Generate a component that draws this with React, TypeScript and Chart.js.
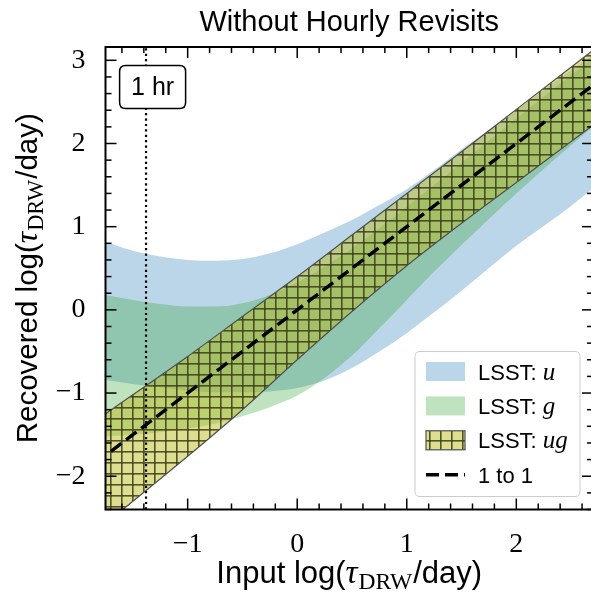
import React, { useEffect, useRef } from "react";
import { Chart, registerables } from "chart.js";

Chart.register(...registerables);

// ---------- text ----------
const TITLE = "Without Hourly Revisits";
const X_LABEL = ["Input log(", "τ", "DRW", "/day)"];
const Y_LABEL = ["Recovered log(", "τ", "DRW", "/day)"];
const LEGEND_PREFIX = "LSST:";
const SERIES_NAMES = ["u", "g", "ug"];
const ONE_TO_ONE_LABEL = "1 to 1";
const HOUR_LABEL = "1 hr";

// ---------- axes ----------
const X_RANGE = [-1.75, 2.7];
const Y_RANGE = [-2.4, 3.16];
const X_TICKS = [-1, 0, 1, 2];
const Y_TICKS = [-2, -1, 0, 1, 2, 3];
const MINOR_STEP = 0.2;

// ---------- data ----------
const U_X = [-1.75, -1.5, -1.25, -1.0, -0.75, -0.5, -0.25, 0, 0.25, 0.5, 0.75, 1.0, 1.25, 1.5, 2.0, 2.5, 2.7];
const U_UPPER = [0.82, 0.71, 0.64, 0.6, 0.59, 0.61, 0.68, 0.79, 0.93, 1.08, 1.26, 1.45, 1.68, 1.93, 2.4, 2.88, 3.06];
const U_LOWER = [-0.84, -0.89, -0.93, -0.97, -0.99, -0.99, -0.98, -0.94, -0.85, -0.7, -0.5, -0.28, -0.03, 0.23, 0.77, 1.25, 1.46];

const G_X = [-1.75, -1.5, -1.25, -1.0, -0.75, -0.5, -0.25, 0, 0.25, 0.5, 0.75, 1.0, 1.25, 1.5, 2.0, 2.5, 2.7];
const G_UPPER = [0.18, 0.12, 0.07, 0.04, 0.04, 0.08, 0.18, 0.33, 0.52, 0.74, 0.98, 1.24, 1.5, 1.77, 2.3, 2.82, 3.02];
const G_LOWER = [-1.52, -1.5, -1.47, -1.43, -1.37, -1.28, -1.17, -1.03, -0.82, -0.55, -0.22, 0.12, 0.46, 0.78, 1.4, 1.98, 2.2];

const UG_X = [-1.75, -1.0, -0.5, 0, 0.5, 1.0, 1.5, 2.0, 2.7];
const UG_UPPER = [-1.25, -0.56, -0.08, 0.4, 0.9, 1.4, 1.9, 2.41, 3.12];
const UG_LOWER = [-2.57, -1.76, -1.2, -0.6, -0.02, 0.53, 1.04, 1.53, 2.22];

const ONE_X = [-1.7, 2.7];
const ONE_Y = [-1.7, 2.7];

const HOUR_X = -1.38; // log10(1/24)
const HOUR_LABEL_POS = [-1.32, 2.68];

// ---------- styles ----------
const SANS = "'Liberation Sans', Arial, sans-serif";
const SERIF = "'Liberation Serif', 'Times New Roman', serif";
const U_COLOR = "rgba(31,119,180,0.3)";
const G_COLOR = "rgba(44,160,44,0.3)";
const EDGE = "#505050";

function pts(xs: number[], ys: number[]) {
  return xs.map((x, i) => ({ x, y: ys[i] }));
}

function makeHatch(ctx: CanvasRenderingContext2D) {
  const c = document.createElement("canvas");
  c.width = 11;
  c.height = 11;
  const g = c.getContext("2d")!;
  g.fillStyle = "rgba(188,189,34,0.5)";
  g.fillRect(0, 0, 11, 11);
  g.fillStyle = "rgba(60,60,25,0.85)";
  g.fillRect(0, 0, 11, 1.6);
  g.fillRect(0, 0, 1.6, 11);
  return ctx.createPattern(c, "repeat")!;
}

function drawParts(ctx: CanvasRenderingContext2D, parts: string[], size: number) {
  const fonts = [
    `${size}px ${SANS}`,
    `italic ${size * 1.08}px ${SERIF}`,
    `${size * 0.76}px ${SERIF}`,
    `${size}px ${SANS}`,
  ];
  const dys = [0, 0, size * 0.2, 0];
  const gaps = [0, 1, 1, 0];
  const widths = parts.map((p, i) => {
    ctx.font = fonts[i];
    return ctx.measureText(p).width + gaps[i];
  });
  const total = widths.reduce((a, b) => a + b, 0);
  let x = -total / 2;
  parts.forEach((p, i) => {
    ctx.font = fonts[i];
    ctx.fillText(p, x, dys[i]);
    x += widths[i];
  });
}

function roundRect(ctx: CanvasRenderingContext2D, x: number, y: number, w: number, h: number, r: number) {
  ctx.beginPath();
  ctx.moveTo(x + r, y);
  ctx.lineTo(x + w - r, y);
  ctx.quadraticCurveTo(x + w, y, x + w, y + r);
  ctx.lineTo(x + w, y + h - r);
  ctx.quadraticCurveTo(x + w, y + h, x + w - r, y + h);
  ctx.lineTo(x + r, y + h);
  ctx.quadraticCurveTo(x, y + h, x, y + h - r);
  ctx.lineTo(x, y + r);
  ctx.quadraticCurveTo(x, y, x + r, y);
  ctx.closePath();
}

export default function App() {
  const ref = useRef<HTMLCanvasElement>(null);

  useEffect(() => {
    const canvas = ref.current!;
    const ctx0 = canvas.getContext("2d")!;
    const hatch = makeHatch(ctx0);

    const decor = {
      id: "decor",
      afterDatasetsDraw(chart: any) {
        const { ctx, chartArea: a, scales } = chart;
        const xs = scales.x;
        const ys = scales.y;
        ctx.save();

        // 1 hr box
        const bx = xs.getPixelForValue(HOUR_LABEL_POS[0]);
        const by = ys.getPixelForValue(HOUR_LABEL_POS[1]);
        const bw = 66;
        const bh = 43;
        roundRect(ctx, bx - bw / 2, by - bh / 2, bw, bh, 6);
        ctx.fillStyle = "#fff";
        ctx.fill();
        ctx.strokeStyle = "#000";
        ctx.lineWidth = 1.5;
        ctx.stroke();
        ctx.fillStyle = "#000";
        ctx.font = `25px ${SANS}`;
        ctx.textAlign = "center";
        ctx.textBaseline = "middle";
        ctx.fillText(HOUR_LABEL, bx, by + 1);

        // ticks
        ctx.strokeStyle = "#000";
        ctx.lineWidth = 1.5;
        const seg = (x1: number, y1: number, x2: number, y2: number) => {
          ctx.beginPath();
          ctx.moveTo(x1, y1);
          ctx.lineTo(x2, y2);
          ctx.stroke();
        };
        const xTick = (v: number, len: number) => {
          const p = xs.getPixelForValue(v);
          seg(p, a.bottom, p, a.bottom - len);
          seg(p, a.top, p, a.top + len);
        };
        const yTick = (v: number, len: number) => {
          const p = ys.getPixelForValue(v);
          seg(a.left, p, a.left + len, p);
          seg(a.right, p, a.right - len, p);
        };
        const minors = (min: number, max: number, f: (v: number) => void) => {
          for (let k = Math.ceil(min / MINOR_STEP - 1e-9); k * MINOR_STEP <= max + 1e-9; k++) {
            const v = k * MINOR_STEP;
            if (Math.abs(v - Math.round(v)) < 1e-6) continue;
            f(v);
          }
        };
        xs.ticks.forEach((t: any) => xTick(t.value, 11));
        ys.ticks.forEach((t: any) => yTick(t.value, 11));
        minors(xs.min, xs.max, (v) => xTick(v, 6));
        minors(ys.min, ys.max, (v) => yTick(v, 6));

        // frame
        ctx.lineWidth = 2;
        ctx.strokeRect(a.left, a.top, a.right - a.left, a.bottom - a.top);

        // legend
        const lw = 165;
        const lh = 145;
        const lx = a.right - 13 - lw;
        const ly = a.bottom - 13 - lh;
        roundRect(ctx, lx, ly, lw, lh, 5);
        ctx.fillStyle = "rgba(255,255,255,0.85)";
        ctx.fill();
        ctx.strokeStyle = "#cccccc";
        ctx.lineWidth = 1;
        ctx.stroke();

        const rowY = (i: number) => ly + 20 + i * 34.4;
        const px = lx + 11;
        const pw = 39;
        const ph = 19;
        const fills = [U_COLOR, G_COLOR];
        for (let i = 0; i < 3; i++) {
          const cy = rowY(i);
          if (i < 2) {
            ctx.fillStyle = fills[i];
            ctx.fillRect(px, cy - ph / 2, pw, ph);
          } else {
            ctx.fillStyle = hatch;
            ctx.fillRect(px, cy - ph / 2, pw, ph);
            ctx.strokeStyle = EDGE;
            ctx.lineWidth = 1.2;
            ctx.strokeRect(px, cy - ph / 2, pw, ph);
          }
          ctx.fillStyle = "#000";
          ctx.textAlign = "left";
          ctx.textBaseline = "alphabetic";
          ctx.font = `22px ${SANS}`;
          const tx = lx + 63;
          ctx.fillText(LEGEND_PREFIX, tx, cy + 8);
          const w = ctx.measureText(LEGEND_PREFIX).width;
          ctx.font = `italic 25px ${SERIF}`;
          ctx.fillText(SERIES_NAMES[i], tx + w + 6, cy + 8);
        }
        const dy = rowY(3);
        ctx.strokeStyle = "#000";
        ctx.lineWidth = 3.5;
        ctx.setLineDash([13, 6]);
        seg(px, dy, px + pw, dy);
        ctx.setLineDash([]);
        ctx.fillStyle = "#000";
        ctx.font = `22px ${SANS}`;
        ctx.fillText(ONE_TO_ONE_LABEL, lx + 63, dy + 8);

        ctx.restore();
      },
      afterDraw(chart: any) {
        const { ctx, chartArea: a } = chart;
        const cx = (a.left + a.right) / 2;
        const cy = (a.top + a.bottom) / 2;
        ctx.save();
        ctx.fillStyle = "#000";
        ctx.textAlign = "left";
        ctx.textBaseline = "alphabetic";
        // title
        ctx.font = `29px ${SANS}`;
        const tw = ctx.measureText(TITLE).width;
        ctx.fillText(TITLE, cx - tw / 2, 31);
        // x label
        ctx.save();
        ctx.translate(cx, 583);
        drawParts(ctx, X_LABEL, 31);
        ctx.restore();
        // y label
        ctx.save();
        ctx.translate(37, cy);
        ctx.rotate(-Math.PI / 2);
        drawParts(ctx, Y_LABEL, 29.5);
        ctx.restore();
        ctx.restore();
      },
    };

    const band = (xs: number[], lo: number[], hi: number[], color: any, order: number, edge: boolean) => [
      {
        data: pts(xs, lo),
        borderWidth: edge ? 1.2 : 0,
        borderColor: edge ? EDGE : "rgba(0,0,0,0)",
        pointRadius: 0,
        fill: false,
        cubicInterpolationMode: "monotone",
        order,
      },
      {
        data: pts(xs, hi),
        borderWidth: edge ? 1.2 : 0,
        borderColor: edge ? EDGE : "rgba(0,0,0,0)",
        backgroundColor: color,
        pointRadius: 0,
        fill: "-1",
        cubicInterpolationMode: "monotone",
        order,
      },
    ];

    const fmt = (v: number) => (v < 0 ? "\u2212" + Math.abs(v) : String(v));

    const chart = new Chart(canvas, {
      type: "line",
      data: {
        datasets: [
          ...band(U_X, U_LOWER, U_UPPER, U_COLOR, 5, false),
          ...band(G_X, G_LOWER, G_UPPER, G_COLOR, 4, false),
          ...band(UG_X, UG_LOWER, UG_UPPER, hatch, 3, true),
          {
            data: pts(ONE_X, ONE_Y),
            borderColor: "#000",
            borderWidth: 3.5,
            borderDash: [13, 6],
            pointRadius: 0,
            fill: false,
            order: 2,
          },
          {
            data: [
              { x: HOUR_X, y: Y_RANGE[0] },
              { x: HOUR_X, y: Y_RANGE[1] },
            ],
            borderColor: "#000",
            borderWidth: 2.2,
            borderDash: [2.2, 3.2],
            pointRadius: 0,
            fill: false,
            order: 1,
          },
        ] as any,
      },
      options: {
        animation: false,
        responsive: false,
        events: [],
        layout: { padding: { left: 0, right: 7, top: 47, bottom: 0 } },
        plugins: { legend: { display: false }, tooltip: { enabled: false }, title: { display: false } },
        scales: {
          x: {
            type: "linear",
            min: X_RANGE[0],
            max: X_RANGE[1],
            grid: { display: false },
            border: { display: false },
            afterBuildTicks: (s: any) => {
              s.ticks = X_TICKS.map((v) => ({ value: v }));
            },
            afterFit: (s: any) => {
              s.height = 86.5;
            },
            ticks: {
              autoSkip: false,
              maxRotation: 0,
              padding: 10,
              color: "#000",
              font: { family: SERIF, size: 28 },
              callback: (v: any) => fmt(Number(v)),
            },
          },
          y: {
            type: "linear",
            min: Y_RANGE[0],
            max: Y_RANGE[1],
            grid: { display: false },
            border: { display: false },
            afterBuildTicks: (s: any) => {
              s.ticks = Y_TICKS.map((v) => ({ value: v }));
            },
            afterFit: (s: any) => {
              s.width = 105.5;
            },
            ticks: {
              autoSkip: false,
              padding: 12,
              color: "#000",
              font: { family: SERIF, size: 28 },
              callback: (v: any) => fmt(Number(v)),
            },
          },
        },
      } as any,
      plugins: [decor],
    });

    return () => chart.destroy();
  }, []);

  return (
    <div style={{ position: "fixed", left: 0, top: 0, width: 591, height: 596, overflow: "hidden", background: "#fff" }}>
      <canvas ref={ref} width={600} height={596} style={{ display: "block" }} />
    </div>
  );
}
